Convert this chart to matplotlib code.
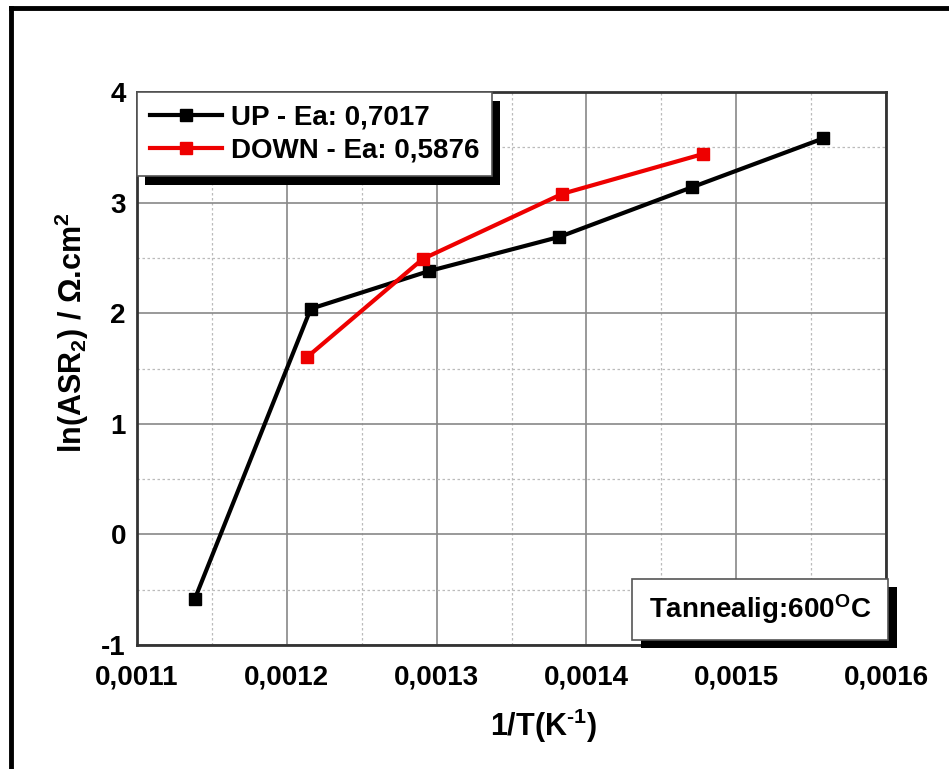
import matplotlib
matplotlib.use("Agg")
import matplotlib.pyplot as plt
from matplotlib.lines import Line2D
from matplotlib.patches import Rectangle
from matplotlib.ticker import MultipleLocator, FixedLocator

plt.rcParams['font.family'] = ['Liberation Sans', 'DejaVu Sans']
plt.rcParams['mathtext.fontset'] = 'custom'
plt.rcParams['mathtext.rm'] = 'Liberation Sans:bold'
plt.rcParams['mathtext.bf'] = 'Liberation Sans:bold'
plt.rcParams['mathtext.it'] = 'Liberation Sans:bold'

up_x = [0.0011387, 0.001216, 0.0012947, 0.001382, 0.0014707, 0.001558]
up_y = [-0.58, 2.04, 2.38, 2.69, 3.14, 3.58]
down_x = [0.0012133, 0.0012907, 0.001384, 0.001478]
down_y = [1.60, 2.49, 3.08, 3.44]
up_label = "UP - Ea: 0,7017"
down_label = "DOWN - Ea: 0,5876"
x_ticks = [0.0011, 0.0012, 0.0013, 0.0014, 0.0015, 0.0016]
x_tick_labels = ["0,0011", "0,0012", "0,0013", "0,0014", "0,0015", "0,0016"]
y_ticks = [-1, 0, 1, 2, 3, 4]
y_tick_labels = ["-1", "0", "1", "2", "3", "4"]
note = r"Tannealig:600$^{\mathrm{O}}$C"

W, H = 949, 769
fig = plt.figure(figsize=(W / 100, H / 100), dpi=100)
L, R, B, T = 137, 886, 645, 92
ax = fig.add_axes([L / W, 1 - B / H, (R - L) / W, (B - T) / H])

ax.plot(up_x, up_y, color='black', lw=3, marker='s', ms=9, mfc='black', mec='black',
        label=up_label, zorder=4)
ax.plot(down_x, down_y, color='#ee0000', lw=3, marker='s', ms=9, mfc='#ee0000',
        mec='#ee0000', label=down_label, zorder=4)

ax.set_xlim(0.0011, 0.0016)
ax.set_ylim(-1, 4)
ax.xaxis.set_major_locator(FixedLocator(x_ticks))
ax.set_xticklabels(x_tick_labels)
ax.yaxis.set_major_locator(FixedLocator(y_ticks))
ax.set_yticklabels(y_tick_labels)
ax.xaxis.set_minor_locator(MultipleLocator(0.00005))
ax.yaxis.set_minor_locator(MultipleLocator(0.5))
ax.grid(which='major', color='#888888', lw=1.2, ls='-')
ax.grid(which='minor', color='#bbbbbb', lw=0.9, ls=(0, (2, 2)))
ax.set_axisbelow(True)
ax.tick_params(which='both', length=0)
ax.tick_params(axis='x', pad=14, labelsize=20)
ax.tick_params(axis='y', pad=8, labelsize=20)
for lab in ax.get_xticklabels() + ax.get_yticklabels():
    lab.set_fontweight('bold')
for s in ax.spines.values():
    s.set_color('#333333')
    s.set_linewidth(2)

ax.set_xlabel("1/T(K$^{\\mathrm{\u2010}1}$)", fontsize=22, fontweight='bold')
ax.xaxis.set_label_coords(0.543, -0.112)
ax.set_ylabel(r"ln(ASR$_2$) / $\Omega$.cm$^2$", fontsize=22, fontweight='bold')
ax.yaxis.set_label_coords(-0.062, 0.565)

# legend
leg = ax.legend(loc='upper left', bbox_to_anchor=(0.0, 1.0), frameon=True, fancybox=False,
                framealpha=1.0, handlelength=2.6, handletextpad=0.35, borderpad=0.45,
                labelspacing=0.25,
                prop={'family': 'Liberation Sans', 'weight': 'bold', 'size': 20},
                borderaxespad=0.0)
leg.set_zorder(6)
leg.get_frame().set_edgecolor('#555555')
leg.get_frame().set_facecolor('white')
leg.get_frame().set_linewidth(1.2)
for h in leg.legend_handles:
    h.set_markersize(8)
    h.set_linewidth(3)

fig.canvas.draw()
bb = leg.get_window_extent()
ax.add_patch(Rectangle((bb.x0 + 8, bb.y0 - 9), bb.width, bb.height, transform=None,
                       fc='black', ec='none', zorder=5.5, clip_on=False))

# annotation box with shadow (figure pixel coordinates)
bx0, bx1, by0, by1 = 632, 888, 579, 640
ax.add_patch(Rectangle((bx0 + 9, H - by1 - 8), bx1 - bx0, by1 - by0, transform=None,
                       fc='black', ec='none', zorder=5.5, clip_on=False))
ax.add_patch(Rectangle((bx0, H - by1), bx1 - bx0, by1 - by0, transform=None,
                       fc='white', ec='#555555', lw=1.2, zorder=5.7, clip_on=False))
fig.text((bx0 + bx1) / 2 / W, 1 - (by0 + by1) / 2 / H, note, fontsize=20,
         fontweight='bold', ha='center', va='center', zorder=10)

# outer frame
fig.add_artist(Line2D([11 / W, 1.0], [1 - 8 / H, 1 - 8 / H], transform=fig.transFigure,
                      color='black', lw=3.5))
fig.add_artist(Line2D([11 / W, 11 / W], [0.0, 1 - 8 / H], transform=fig.transFigure,
                      color='black', lw=3.5))

fig.savefig("out.png", dpi=100)
